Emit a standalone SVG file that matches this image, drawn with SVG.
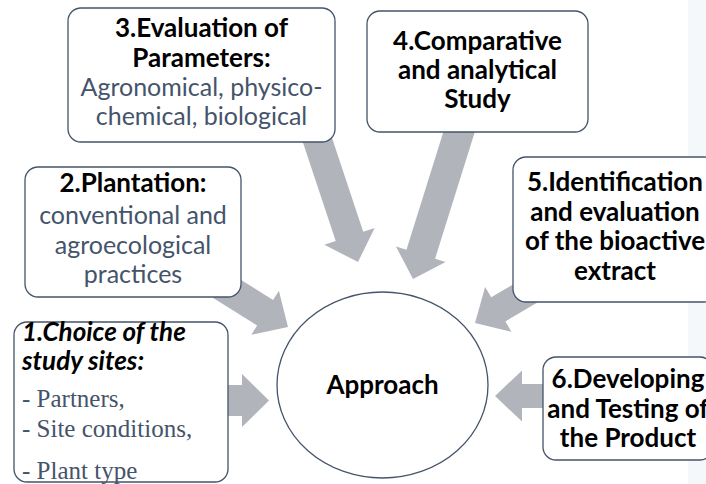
<svg xmlns="http://www.w3.org/2000/svg" width="706" height="484" viewBox="0 0 706 484">
<style>
.box{fill:#ffffff;stroke:#44546a;stroke-width:1.3}
.arr{fill:#b1b4bb}
.t{font-family:Lato,"Open Sans","Liberation Sans",sans-serif;font-size:25px;text-anchor:middle}
.b{font-weight:bold;fill:#000000;font-size:26px}
.r{font-weight:normal;fill:#44546a}
.it{font-family:Lato,"Liberation Sans",sans-serif;font-size:26px;font-weight:bold;font-style:italic;fill:#000000}
.tm{font-family:"Liberation Serif","Times New Roman",serif;font-size:25px;fill:#44546a}
</style>
<rect x="0" y="0" width="706" height="484" fill="#ffffff"/>
<rect x="688" y="0" width="18" height="484" fill="#f5f8fa"/>
<g id="connectors">
<path class="arr" transform="translate(269,400.5)" d="M0,0 L-27,-26.5 L-27,-15.5 L-60,-15.5 L-60,15.5 L-27,15.5 L-27,26.5 Z"/>
<path class="arr" transform="translate(288,327) rotate(32)" d="M0,0 L-27,-26 L-27,-15 L-100,-15 L-100,15 L-27,15 L-27,26 Z"/>
<path class="arr" transform="translate(358,262) rotate(71.6)" d="M0,0 L-27,-26.5 L-27,-14.5 L-140,-14.5 L-140,14.5 L-27,14.5 L-27,26.5 Z"/>
<path class="arr" transform="translate(413,279) rotate(107.4)" d="M0,0 L-26,-26 L-26,-15 L-175,-15 L-175,15 L-26,15 L-26,26 Z"/>
<path class="arr" transform="translate(475,323) rotate(149.6)" d="M0,0 L-27,-26 L-27,-14 L-80,-14 L-80,14 L-27,14 L-27,26 Z"/>
<path class="arr" transform="translate(495,396) rotate(180)" d="M0,0 L-27,-25.5 L-27,-12 L-70,-12 L-70,12 L-27,12 L-27,25.5 Z"/>
</g>
<g id="center">
<ellipse class="box" cx="382.5" cy="385" rx="105.5" ry="93"/>
<text class="t b" x="382.5" y="394">Approach</text>
</g>
<g id="node3">
<rect class="box" x="68" y="8" width="267" height="134" rx="13"/>
<text class="t b" x="201.5" y="37">3.Evaluation of</text>
<text class="t b" x="201.5" y="67">Parameters:</text>
<text class="t r" x="201.5" y="96">Agronomical, physico-</text>
<text class="t r" x="201.5" y="125">chemical, biological</text>
</g>
<g id="node4">
<rect class="box" x="367" y="11" width="221" height="121" rx="13"/>
<text class="t b" x="477.5" y="50">4.Comparative</text>
<text class="t b" x="477.5" y="79">and analytical</text>
<text class="t b" x="477.5" y="108">Study</text>
</g>
<g id="node2">
<rect class="box" x="25" y="167" width="216" height="130" rx="13"/>
<text class="t b" x="133" y="192">2.Plantation:</text>
<text class="t r" x="133" y="224">conventional and</text>
<text class="t r" x="133" y="254">agroecological</text>
<text class="t r" x="133" y="283">practices</text>
</g>
<g id="node1">
<rect class="box" x="14" y="322" width="214" height="160" rx="13"/>
<text class="it" x="22" y="341">1.Choice of the</text>
<text class="it" x="22" y="370">study sites:</text>
<text class="tm" x="22" y="407">- Partners,</text>
<text class="tm" x="22" y="437">- Site conditions,</text>
<text class="tm" x="22" y="479">- Plant type</text>
</g>
<g id="node5">
<rect class="box" x="513" y="157" width="204" height="145" rx="13"/>
<text class="t b" x="615" y="191">5.Identification</text>
<text class="t b" x="615" y="221">and evaluation</text>
<text class="t b" x="615" y="250">of the bioactive</text>
<text class="t b" x="615" y="280">extract</text>
</g>
<g id="node6">
<rect class="box" x="543" y="357" width="170" height="103" rx="13"/>
<text class="t b" x="628" y="388">6.Developing</text>
<text class="t b" x="628" y="417.5">and Testing of</text>
<text class="t b" x="628" y="447">the Product</text>
</g>
</svg>
